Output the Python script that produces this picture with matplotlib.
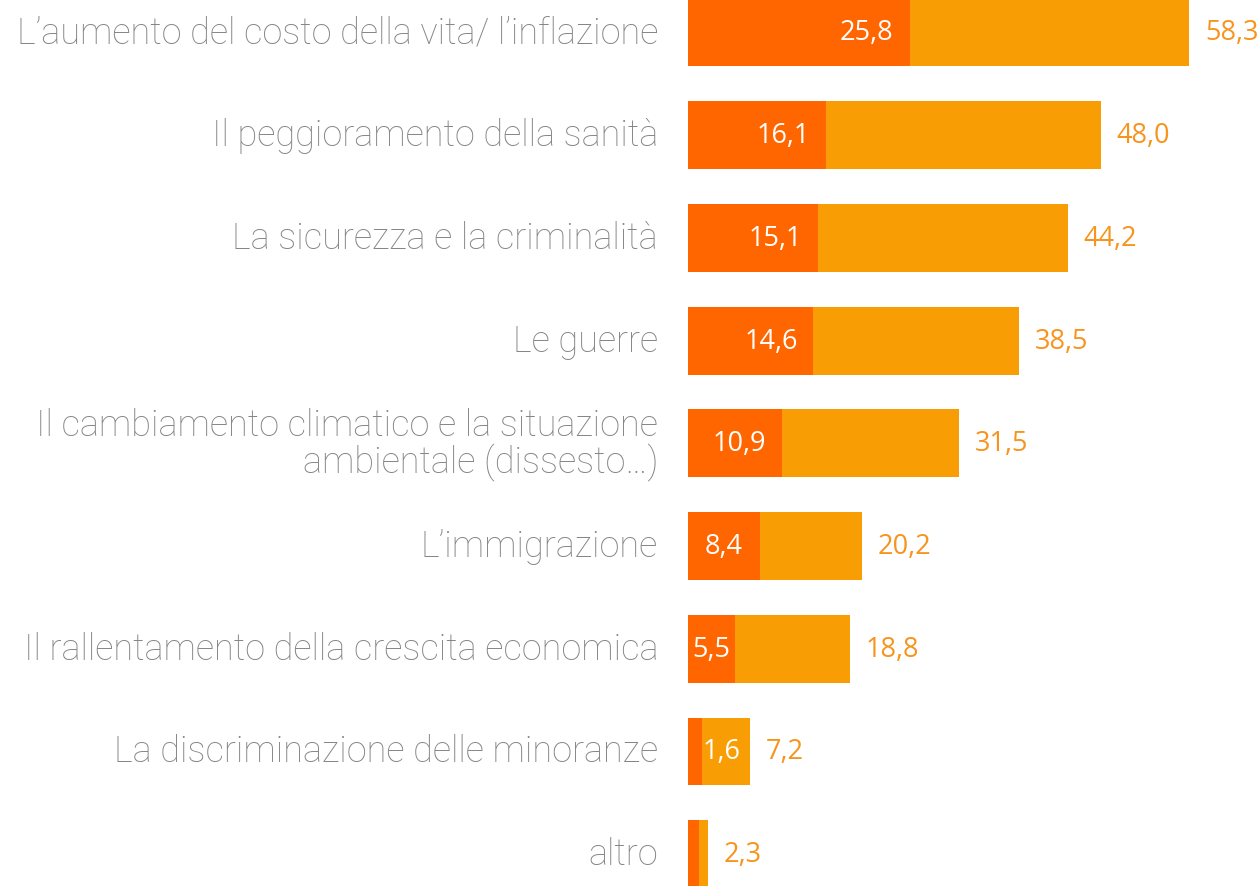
import matplotlib
matplotlib.use("Agg")
from matplotlib import pyplot as plt
import matplotlib.transforms as mtransforms

categories = [
    "L\u2019aumento del costo della vita/ l\u2019inflazione",
    "Il peggioramento della sanit\u00e0",
    "La sicurezza e la criminalit\u00e0",
    "Le guerre",
    "Il cambiamento climatico e la situazione\nambientale (dissesto\u2026)",
    "L\u2019immigrazione",
    "Il rallentamento della crescita economica",
    "La discriminazione delle minoranze",
    "altro",
]
first = [25.8, 16.1, 15.1, 14.6, 10.9, 8.4, 5.5, 1.6, 1.3]
total = [58.3, 48.0, 44.2, 38.5, 31.5, 20.2, 18.8, 7.2, 2.3]
show_first = [True, True, True, True, True, True, True, True, False]

dark = "#FF6600"
light = "#F99D04"
label_col = "#F7941D"
grey = "#858585"

fig = plt.figure(figsize=(12.58, 8.87), dpi=100)
ax = fig.add_axes([688 / 1258, 0, 570 / 1258, 1])

y = list(range(len(categories)))
ax.barh(y, total, height=0.66, color=light, left=0)
ax.barh(y, first, height=0.66, color=dark, left=0)

ax.set_xlim(0, 570 / 8.594)
ax.set_ylim(8.31, -0.326)
ax.axis("off")

fmt = lambda v: f"{v:.1f}".replace(".", ",")
off_l = mtransforms.offset_copy(ax.transData, fig=fig, x=-16, y=0, units="dots")
off_r = mtransforms.offset_copy(ax.transData, fig=fig, x=16, y=0, units="dots")
off_s = mtransforms.offset_copy(ax.transData, fig=fig, x=1, y=0, units="dots")
off_cat = mtransforms.offset_copy(ax.transData, fig=fig, x=-30, y=0, units="dots")

vfont = dict(fontsize=19.5, family="Open Sans")
for i in y:
    ax.text(0, i, categories[i], transform=off_cat, ha="right", va="center",
            fontsize=26, color=grey, family="Roboto", fontweight="light",
            linespacing=0.95, clip_on=False)
    ax.text(total[i], i, fmt(total[i]), transform=off_r, ha="left", va="center",
            color=label_col, **vfont)
    if show_first[i]:
        if first[i] >= 9:
            ax.text(first[i], i, fmt(first[i]), transform=off_l, ha="right",
                    va="center", color="white", **vfont)
        elif first[i] >= 3:
            ax.text(first[i] / 2, i, fmt(first[i]), ha="center",
                    va="center", color="white", **vfont)
        else:
            ax.text(first[i], i, fmt(first[i]), transform=off_s, ha="left",
                    va="center", color="white", **vfont)

fig.savefig("out.png", dpi=100)
